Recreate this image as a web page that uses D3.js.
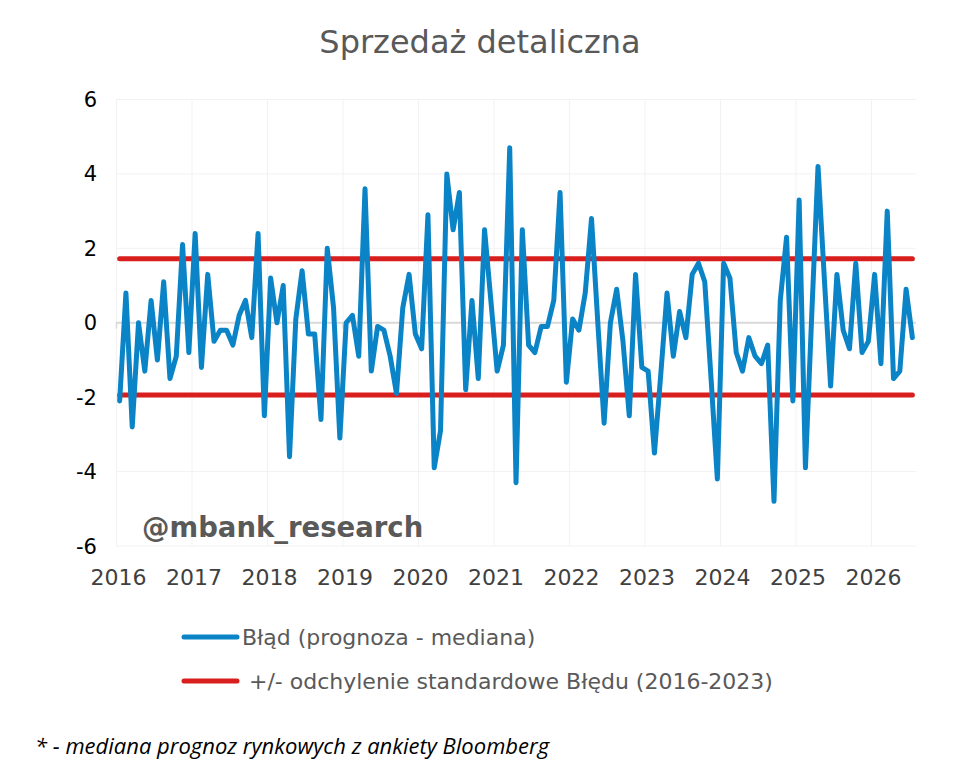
<!DOCTYPE html>
<html>
<head>
<meta charset="utf-8">
<script src="https://cdn.jsdelivr.net/npm/d3@7"></script>
<style>
  body { margin: 0; background: #fff; }
</style>
</head>
<body>
<svg width="960" height="775"></svg>
<script>
const width = 960;
const height = 775;

// monthly error (forecast - median), one array per year
const blad2016 = [-2.1, 0.8, -2.8, 0.0, -1.3, 0.6, -1.0, 1.1, -1.5, -0.9, 2.1, -0.8];
const blad2017 = [2.4, -1.2, 1.3, -0.5, -0.2, -0.2, -0.6, 0.2, 0.6, -0.4, 2.4, -2.5];
const blad2018 = [1.2, 0.0, 1.0, -3.6, 0.1, 1.4, -0.3, -0.3, -2.6, 2.0, 0.4, -3.1];
const blad2019 = [0.0, 0.2, -0.9, 3.6, -1.3, -0.1, -0.2, -0.9, -1.9, 0.4, 1.3, -0.3];
const blad2020 = [-0.7, 2.9, -3.9, -2.9, 4.0, 2.5, 3.5, -1.8, 0.6, -1.5, 2.5, 0.6];
const blad2021 = [-1.3, -0.6, 4.7, -4.3, 2.5, -0.6, -0.8, -0.1, -0.1, 0.6, 3.5, -1.6];
const blad2022 = [0.1, -0.2, 0.8, 2.8, 0.0, -2.7, 0.0, 0.9, -0.5, -2.5, 1.3, -1.2];
const blad2023 = [-1.3, -3.5, -1.4, 0.8, -0.9, 0.3, -0.4, 1.3, 1.6, 1.1, -1.5, -4.2];
const blad2024 = [1.6, 1.2, -0.8, -1.3, -0.4, -0.9, -1.1, -0.6, -4.8, 0.6, 2.3, -2.1];
const blad2025 = [3.3, -3.9, 0.2, 4.2, 1.2, -1.7, 1.3, -0.2, -0.7, 1.6, -0.8, -0.5];
const blad2026 = [1.3, -1.1, 3.0, -1.5, -1.3, 0.9, -0.4];

// +/- standard deviation of the error (2016-2023)
const sdBand = [1.72, -1.94];

const yearTicks = [2016, 2017, 2018, 2019, 2020, 2021, 2022, 2023, 2024, 2025, 2026];
const yTicks = [-6, -4, -2, 0, 2, 4, 6];

const title = "Sprzedaż detaliczna";
const legendLabels = ["Błąd (prognoza - mediana)", " +/- odchylenie standardowe Błędu (2016-2023)"];
const footnote = "* - mediana prognoz rynkowych z ankiety Bloomberg";
const watermark = "@mbank_research";

const blue = "#0a84c6";
const red = "#d91e1e";

var allYears = [blad2016, blad2017, blad2018, blad2019, blad2020, blad2021,
                blad2022, blad2023, blad2024, blad2025, blad2026];
var series = [];
allYears.forEach(function (arr, yi) {
    arr.forEach(function (v, m) {
        series.push({ t: 2016 + yi + (m + 0.5) / 12, v: v });
    });
});

var x = d3.scaleLinear().domain([2016, 2026]).range([116.5, 871.5]);
var y = d3.scaleLinear().domain([-6, 6]).range([546, 99.5]);
var plotLeft = 116, plotRight = 916;

var svg = d3.select("svg");
svg.append("rect").attr("width", width).attr("height", height).attr("fill", "#fff");

// title
svg.append("text")
    .attr("x", 480).attr("y", 53)
    .attr("text-anchor", "middle")
    .style("font-family", "DejaVu Sans")
    .style("font-size", "32px")
    .attr("fill", "#595959")
    .text(title);

// grid
svg.append("g").selectAll("line").data(yTicks).join("line")
    .attr("x1", plotLeft).attr("x2", plotRight)
    .attr("y1", d => y(d)).attr("y2", d => y(d))
    .attr("stroke", "#f2f2f2").attr("stroke-width", 1);

svg.append("g").selectAll("line").data(yearTicks).join("line")
    .attr("x1", d => x(d)).attr("x2", d => x(d))
    .attr("y1", y(6)).attr("y2", y(-6))
    .attr("stroke", "#f2f2f2").attr("stroke-width", 1);

// zero axis with small ticks
svg.append("line")
    .attr("x1", plotLeft).attr("x2", plotRight)
    .attr("y1", y(0)).attr("y2", y(0))
    .attr("stroke", "#d9d9d9").attr("stroke-width", 2);

svg.append("g").selectAll("line").data(yearTicks).join("line")
    .attr("x1", d => x(d)).attr("x2", d => x(d))
    .attr("y1", y(0)).attr("y2", y(0) + 6)
    .attr("stroke", "#d9d9d9").attr("stroke-width", 1.5);

// y labels
svg.append("g").selectAll("text").data(yTicks).join("text")
    .attr("x", 97).attr("y", d => y(d) + 7.5)
    .attr("text-anchor", "end")
    .style("font-family", "DejaVu Sans")
    .style("font-size", "21px")
    .attr("fill", "#000")
    .text(d => d);

// x labels
svg.append("g").selectAll("text").data(yearTicks).join("text")
    .attr("x", d => x(d) + 2).attr("y", 585)
    .attr("text-anchor", "middle")
    .style("font-family", "DejaVu Sans")
    .style("font-size", "22px")
    .attr("fill", "#404040")
    .text(d => d);

// watermark
svg.append("text")
    .attr("x", 142).attr("y", 537)
    .style("font-family", "DejaVu Sans")
    .style("font-weight", "bold")
    .style("font-size", "27.5px")
    .attr("fill", "#595959")
    .text(watermark);

// std band lines
var first = series[0].t, last = series[series.length - 1].t;
svg.append("g").selectAll("line").data(sdBand).join("line")
    .attr("x1", x(first)).attr("x2", x(last))
    .attr("y1", d => y(d)).attr("y2", d => y(d))
    .attr("stroke", red).attr("stroke-width", 5)
    .attr("stroke-linecap", "round");

// error line
var line = d3.line().x(d => x(d.t)).y(d => y(d.v));
svg.append("path")
    .datum(series)
    .attr("d", line)
    .attr("fill", "none")
    .attr("stroke", blue)
    .attr("stroke-width", 5)
    .attr("stroke-linejoin", "round")
    .attr("stroke-linecap", "round");

// legend
var legendColors = [blue, red];
var legend = svg.append("g");
legendLabels.forEach(function (lab, i) {
    var ly = 637 + i * 44;
    legend.append("line")
        .attr("x1", 184).attr("x2", 237)
        .attr("y1", ly).attr("y2", ly)
        .attr("stroke", legendColors[i]).attr("stroke-width", 5)
        .attr("stroke-linecap", "round");
    legend.append("text")
        .attr("x", 242).attr("y", ly + 8)
        .attr("xml:space", "preserve")
        .style("white-space", "pre")
        .style("font-family", "DejaVu Sans")
        .style("font-size", "22px")
        .attr("fill", "#595959")
        .text(lab);
});

// footnote
svg.append("text")
    .attr("x", 35).attr("y", 754)
    .style("font-family", "Open Sans")
    .style("font-style", "italic")
    .style("font-size", "22px")
    .attr("fill", "#000")
    .text(footnote);
</script>
</body>
</html>
